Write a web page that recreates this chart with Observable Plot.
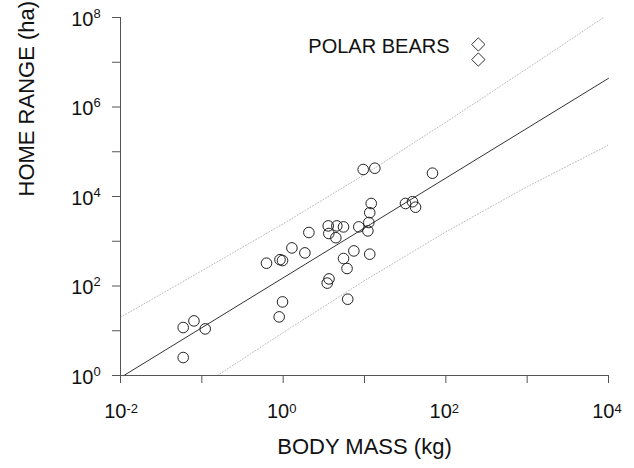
<!DOCTYPE html>
<html>
<head>
<meta charset="utf-8">
<script src="https://cdn.jsdelivr.net/npm/d3@7"></script>
<script src="https://cdn.jsdelivr.net/npm/@observablehq/plot@0.6"></script>
<style>
  html, body { margin: 0; padding: 0; background: #fff; }
  #chart { width: 634px; height: 468px; }
</style>
</head>
<body>
<div id="chart"></div>
<script>
// Species data (body mass kg, home range ha)
const bodyMass = [0.059, 0.080, 0.110, 0.059, 0.624, 0.914, 0.982, 1.28, 1.85, 2.07,
  0.982, 0.893, 3.58, 4.57, 5.52, 3.64, 4.44, 8.51, 11.0, 11.3,
  11.6, 12.1, 7.40, 5.52, 6.10, 3.66, 3.48, 6.22, 11.6, 9.64,
  13.4, 68.5, 31.9, 38.9, 42.4];
const homeRange = [11.8, 16.6, 11.0, 2.52, 323, 387, 371, 710, 549, 1570,
  44.1, 20.4, 2203, 2203, 2094, 1490, 1200, 2094, 1703, 2624,
  4345, 6980, 608, 411, 246, 144, 116, 50.7, 514, 40100,
  42900, 33200, 6980, 7650, 5770];

// Polar bears
const bearMass = [251, 251];
const bearRange = [2.5e7, 1.15e7];
const bearLabel = ["POLAR BEARS"];
const bearLabelX = [111];
const bearLabelY = [2.2e7];

// Regression line and dotted bands
const fitX = [0.011, 10000];
const fitY = [1, 4.37e6];
const upperX = [0.01, 0.1, 1, 10, 100, 1000, 8710];
const upperY = [20, 219, 2455, 30900, 457000, 7.24e6, 1e8];
const lowerX = [0.155, 1, 10, 100, 1000, 10000];
const lowerY = [1, 9.1, 132, 1620, 16600, 141000];

// Axes
const xTicks = [0.01, 0.1, 1, 10, 100, 1000, 10000];
const yTicks = [1, 10, 100, 1e3, 1e4, 1e5, 1e6, 1e7, 1e8];
const xLabelTicks = [0.01, 1, 100, 10000];
const xLabelExp = ["-2", "0", "2", "4"];
const yLabelTicks = [1, 100, 1e4, 1e6, 1e8];
const yLabelExp = ["0", "2", "4", "6", "8"];
const xTitle = "BODY MASS (kg)";
const yTitle = "HOME RANGE (ha)";

const pts = bodyMass.map((m, i) => ({m, r: homeRange[i]}));
const bears = bearMass.map((m, i) => ({m, r: bearRange[i]}));
const fit = fitX.map((x, i) => ({x, y: fitY[i]}));
const upper = upperX.map((x, i) => ({x, y: upperY[i]}));
const lower = lowerX.map((x, i) => ({x, y: lowerY[i]}));

const axisColor = "#555";

const chart = Plot.plot({
  width: 634,
  height: 468,
  marginLeft: 120,
  marginRight: 26,
  marginTop: 17,
  marginBottom: 93,
  style: { fontFamily: "'Liberation Sans', Arial, sans-serif", background: "#fff", color: "#111" },
  x: { type: "log", domain: [0.01, 10000], axis: null },
  y: { type: "log", domain: [1, 1e8], axis: null },
  marks: [
    Plot.line(upper, { x: "x", y: "y", stroke: "#bbb", strokeWidth: 1, strokeDasharray: "1,2", clip: true }),
    Plot.line(lower, { x: "x", y: "y", stroke: "#bbb", strokeWidth: 1, strokeDasharray: "1,2", clip: true }),
    Plot.line(fit, { x: "x", y: "y", stroke: "#333", strokeWidth: 1 }),
    Plot.ruleY([1], { stroke: axisColor }),
    Plot.ruleX([0.01], { stroke: axisColor }),
    Plot.axisX({ ticks: xTicks, tickSize: 8, tickFormat: () => "", stroke: axisColor }),
    Plot.axisY({ ticks: yTicks, tickSize: 8, tickFormat: () => "", stroke: axisColor }),
    Plot.text(xLabelTicks, { x: d => d, text: () => "10", frameAnchor: "bottom", textAnchor: "end", dx: 6, dy: 42, fontSize: 20, fill: "#111" }),
    Plot.text(xLabelTicks, { x: d => d, text: (d, i) => xLabelExp[i], frameAnchor: "bottom", textAnchor: "start", dx: 6, dy: 37, fontSize: 13, fill: "#111" }),
    Plot.text(yLabelTicks, { y: d => d, text: () => "10", frameAnchor: "left", textAnchor: "end", dx: -27, dy: 2, fontSize: 20, fill: "#111" }),
    Plot.text(yLabelTicks, { y: d => d, text: (d, i) => yLabelExp[i], frameAnchor: "left", textAnchor: "start", dx: -27, dy: -4, fontSize: 13, fill: "#111" }),
    Plot.text([xTitle], { text: d => d, frameAnchor: "bottom", dy: 78, fontSize: 22, fill: "#111" }),
    Plot.text([yTitle], { text: d => d, frameAnchor: "left", rotate: -90, dx: -94, fontSize: 22, fill: "#111" }),
    Plot.dot(pts, { x: "m", y: "r", r: 5.3, stroke: "#222", strokeWidth: 1, fill: "none" }),
    Plot.dot(bears, { x: "m", y: "r", r: 6, symbol: "diamond2", stroke: "#333", strokeWidth: 1, fill: "none" }),
    Plot.text(bearLabel, { x: (d, i) => bearLabelX[i], y: (d, i) => bearLabelY[i], text: d => d, textAnchor: "end", fontSize: 20, fill: "#111" })
  ]
});
document.getElementById("chart").appendChild(chart);
</script>
</body>
</html>
